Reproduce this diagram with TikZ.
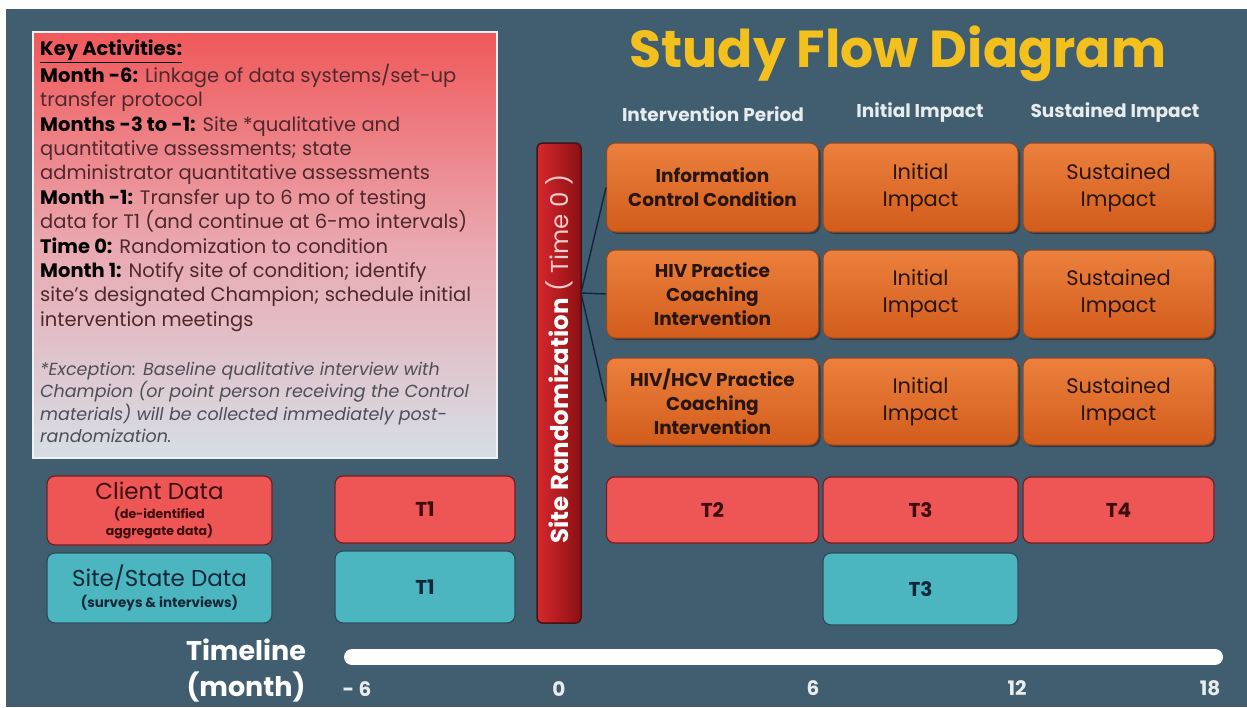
\documentclass[tikz,border=0pt]{standalone}
\usepackage{fontspec}
\setmainfont{Poppins}
\usetikzlibrary{shadows}
\definecolor{bg}{RGB}{64,94,112}
\definecolor{katop}{RGB}{240,88,90}
\definecolor{kamid}{RGB}{234,168,176}
\definecolor{kabot}{RGB}{214,222,230}
\definecolor{katxt}{RGB}{78,40,44}
\definecolor{kanote}{RGB}{78,78,88}
\definecolor{otop}{RGB}{236,128,60}
\definecolor{obot}{RGB}{210,92,28}
\definecolor{oborder}{RGB}{150,70,30}
\definecolor{otext}{RGB}{40,22,14}
\definecolor{redbox}{RGB}{238,86,86}
\definecolor{redborder}{RGB}{120,28,32}
\definecolor{redtext}{RGB}{60,14,16}
\definecolor{tealbox}{RGB}{76,182,192}
\definecolor{tealborder}{RGB}{44,76,92}
\definecolor{tealtext}{RGB}{18,40,58}
\definecolor{bartop}{RGB}{214,40,46}
\definecolor{barbot}{RGB}{140,16,18}
\definecolor{barborder}{RGB}{70,18,20}
\definecolor{titlecol}{RGB}{244,192,30}
\definecolor{headcol}{RGB}{232,236,238}
\definecolor{linecol}{RGB}{22,36,58}
\newcommand{\kb}[1]{\textbf{\color{black}#1}}
\newcommand{\smb}[1]{{\bfseries\fontsize{12.5}{13}\selectfont #1}}
\tikzset{
  obox/.style={draw=oborder, line width=1pt, rounded corners=9pt, top color=otop, bottom color=obot,
    align=center, text=otext, font=\fontsize{21}{27}\selectfont,
    drop shadow={shadow xshift=2pt, shadow yshift=-2pt, opacity=0.35, fill=black}},
  oboxb/.style={obox, font=\bfseries\fontsize{18.5}{24}\selectfont},
  rbox/.style={draw=redborder, line width=1.2pt, rounded corners=8pt, fill=redbox, align=center,
    text=redtext, font=\bfseries\fontsize{20}{22}\selectfont},
  tbox/.style={draw=tealborder, line width=1.2pt, rounded corners=8pt, fill=tealbox, align=center,
    text=tealtext, font=\bfseries\fontsize{20}{22}\selectfont},
  head/.style={text=headcol, font=\bfseries\fontsize{18.5}{22}\selectfont},
  tick/.style={text=headcol, font=\bfseries\fontsize{20}{22}\selectfont},
  conn/.style={draw=linecol, line width=1.4pt}
}
\begin{document}
\begin{tikzpicture}[x=1pt,y=-1pt]
\useasboundingbox (0,0) rectangle (1247,707);
\fill[white] (0,0) rectangle (1247,707);
\fill[bg] (6,9) rectangle (1247,707);

% Key activities box
\node[draw=white!88!gray, line width=2pt, top color=katop, bottom color=kabot, middle color=kamid,
  minimum width=464pt, minimum height=426pt, inner sep=0pt] (kabox) at (265,245) {};
\node[anchor=north west, align=left, inner sep=0pt, text=katxt,
  font=\fontsize{19.5}{24.4}\selectfont] (katext) at (40,40) {%
\kb{\underline{Key Activities:}}\\
\kb{Month -6:} Linkage of data systems/set-up\\
transfer protocol\\
\kb{Months -3 to -1:} Site *qualitative and\\
quantitative assessments; state\\
administrator quantitative assessments\\
\kb{Month -1:} Transfer up to 6 mo of testing\\
data for T1 (and continue at 6-mo intervals)\\
\kb{Time 0:} Randomization to condition\\
\kb{Month 1:} Notify site of condition; identify\\
site's designated Champion; schedule initial\\
intervention meetings};
\node[anchor=north west, align=left, inner sep=0pt, text=kanote,
  font=\itshape\fontsize{17.5}{22.3}\selectfont] (kanote) at (40,362) {%
*Exception: Baseline qualitative interview with\\
Champion (or point person receiving the Control\\
materials) will be collected immediately post-\\
randomization.};

% Title and headers
\node[text=titlecol, font=\bfseries\fontsize{52}{58}\selectfont] (title) at (898,54) {Study Flow Diagram};
\node[head] (h1) at (713,114) {Intervention Period};
\node[head] (h2) at (920,113) {Initial Impact};
\node[head] (h3) at (1115,113) {Sustained Impact};

% Randomization bar
\node[draw=barborder, line width=1.5pt, rounded corners=5pt, left color=bartop, right color=barbot,
  minimum width=44pt, minimum height=480pt, inner sep=0pt] (bar) at (559,383) {};
\node[rotate=90, text=white, font=\fontsize{24.5}{27}\selectfont] (bartext) at (559,359)
  {\textbf{Site Randomization} {\color{white!80!red}( Time 0 )}};

% Orange boxes
\node[oboxb, minimum width=212pt, minimum height=89pt] (c1r1) at (712.5,187.5) {Information\\Control Condition};
\node[obox, minimum width=195pt, minimum height=89pt] (c2r1) at (920.5,187.5) {Initial\\Impact};
\node[obox, minimum width=191pt, minimum height=89pt] (c3r1) at (1118.5,187.5) {Sustained\\Impact};
\node[oboxb, minimum width=212pt, minimum height=88pt] (c1r2) at (712.5,294) {HIV Practice\\Coaching\\Intervention};
\node[obox, minimum width=195pt, minimum height=88pt] (c2r2) at (920.5,294) {Initial\\Impact};
\node[obox, minimum width=191pt, minimum height=88pt] (c3r2) at (1118.5,294) {Sustained\\Impact};
\node[oboxb, minimum width=212pt, minimum height=87pt] (c1r3) at (712.5,401.5) {HIV/HCV Practice\\Coaching\\Intervention};
\node[obox, minimum width=195pt, minimum height=87pt] (c2r3) at (920.5,401.5) {Initial\\Impact};
\node[obox, minimum width=191pt, minimum height=87pt] (c3r3) at (1118.5,401.5) {Sustained\\Impact};

% Fork connectors
\coordinate (fork) at (581,293);
\draw[conn] (fork) -- (c1r1.west);
\draw[conn] (fork) -- (c1r2.west);
\draw[conn] (fork) -- (c1r3.west);

% Data rows
\node[rbox, minimum width=225pt, minimum height=69pt, font=\fontsize{23}{19}\selectfont] (client) at (159.5,510.5)
  {Client Data\\\smb{(de-identified}\\[-2pt]\smb{aggregate data)}};
\node[tbox, minimum width=225pt, minimum height=70pt, font=\fontsize{23}{24}\selectfont] (site) at (159.5,588)
  {Site/State Data\\[-3pt]{\bfseries\fontsize{13.5}{14}\selectfont (surveys \& interviews)}};
\node[rbox, minimum width=180pt, minimum height=67pt] (t1r) at (425,509.5) {T1};
\node[tbox, minimum width=180pt, minimum height=72pt] (t1t) at (425,587) {T1};
\node[rbox, minimum width=212pt, minimum height=66pt] (t2r) at (712.5,510) {T2};
\node[rbox, minimum width=195pt, minimum height=66pt] (t3r) at (920.5,510) {T3};
\node[rbox, minimum width=191pt, minimum height=66pt] (t4r) at (1118.5,510) {T4};
\node[tbox, minimum width=195pt, minimum height=72pt] (t3t) at (920.5,589) {T3};

% Timeline
\coordinate (tlA) at (352,657);
\coordinate (tlB) at (1215,657);
\draw[white, line width=16pt, line cap=round] (tlA) -- (tlB);
\node[text=white, font=\bfseries\fontsize{27}{30}\selectfont] (tl1) at (246,650) {Timeline};
\node[text=white, font=\bfseries\fontsize{27}{30}\selectfont] (tl2) at (246,687) {(month)};
\node[tick] (m6) at (357,689) {- 6};
\node[tick] (m0) at (559,689) {0};
\node[tick] (p6) at (813,688) {6};
\node[tick] (p12) at (1017,688) {12};
\node[tick] (p18) at (1210,688) {18};
\end{tikzpicture}
\end{document}
